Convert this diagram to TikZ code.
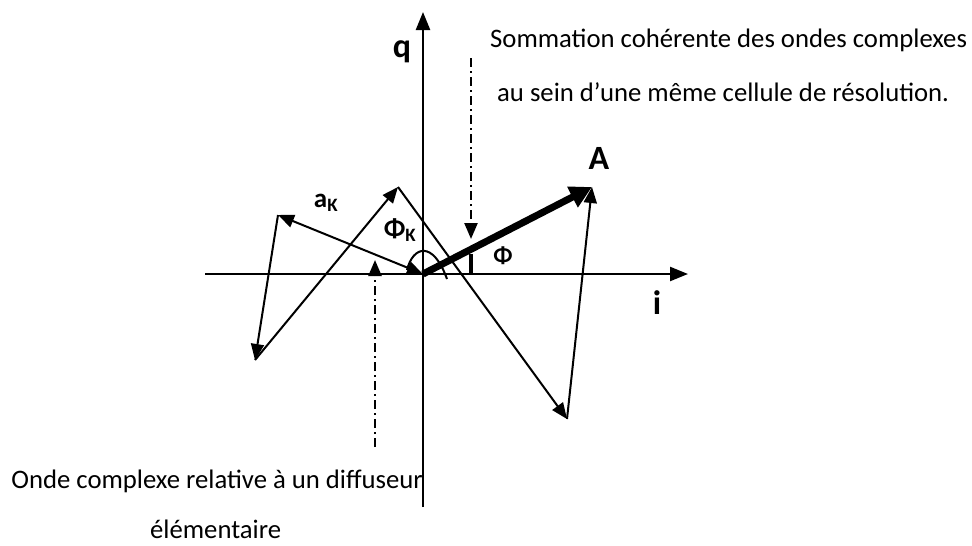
\documentclass[tikz,border=0pt]{standalone}
\usepackage{fontspec}
\setmainfont{Carlito}
\usetikzlibrary{arrows.meta}
\tikzset{
  vec/.style={line width=2pt,-{Triangle[length=16pt,width=13pt]}},
  dvec/.style={line width=2pt,{Triangle[length=16pt,width=13pt]}-{Triangle[length=16pt,width=13pt]}},
  axis/.style={line width=2.4pt,-{Triangle[length=18pt,width=14pt]}},
  dd/.style={line width=2.4pt,dash pattern=on 9pt off 4pt on 2pt off 4pt,-{Triangle[length=16pt,width=13pt]}},
  txt/.style={font=\fontsize{26.7}{30}\selectfont,inner sep=0pt},
  lbl/.style={font=\fontsize{34}{38}\selectfont\bfseries,inner sep=0pt},
  slbl/.style={font=\fontsize{27}{31}\selectfont\bfseries,inner sep=0pt}
}
\begin{document}
\begin{tikzpicture}[x=1pt,y=-1pt]
\useasboundingbox (0,0) rectangle (972,546);
% points
\coordinate (O) at (423,274);
\coordinate (hl) at (205,274);
\coordinate (hr) at (688,274);
\coordinate (vb) at (423,507);
\coordinate (vt) at (423,12);
\coordinate (p1) at (278,215);
\coordinate (p2) at (255,360);
\coordinate (p3) at (398,187);
\coordinate (p4) at (567,419);
\coordinate (p5) at (592,187);
\coordinate (d1s) at (471,58);
\coordinate (d1e) at (471,239);
\coordinate (d2s) at (375,447);
\coordinate (d2e) at (375,260);
\coordinate (t1) at (471,254);
\coordinate (t2) at (471,274);
% axes
\draw[axis] (hl) -- (hr);
\draw[axis] (vb) -- (vt);
% chain of vectors
\draw[dvec] (p1) -- (O);
\draw[vec] (p1) -- (p2);
\draw[vec] (p2) -- (p3);
\draw[vec] (p3) -- (p4);
\draw[vec] (p4) -- (p5);
% resultant
\draw[line width=7pt,-{Triangle[length=22pt,width=22pt]}] (O) -- (p5);
% angle marks
\draw[line width=2pt] (407,270) .. controls (413,246) and (433,240) .. (447,279);
\draw[line width=3.5pt] (t1) -- (t2);
% dash-dot pointers
\draw[dd] (d1s) -- (d1e);
\draw[dd] (d2s) -- (d2e);
% labels
\node[lbl] (q) at (402,52) {q};
\node[lbl] (i) at (657,303) {i};
\node[lbl] (A) at (599,158) {A};
\node[slbl] (ak) at (326,203) {a\textsubscript{K}};
\node[slbl] (phik) at (400,230) {Φ\textsubscript{K}};
\node[slbl,font=\fontsize{24}{28}\selectfont\bfseries] (phi) at (503,256) {Φ};
% texts
\node[txt,anchor=west] (s1) at (490,40) {Sommation cohérente des ondes complexes};
\node[txt,anchor=west] (s2) at (497,92) {au sein d’une même cellule de résolution.};
\node[txt,anchor=east] (o1) at (423,481) {Onde complexe relative à un diffuseur};
\node[txt,anchor=west] (o2) at (150,529) {élémentaire};
\end{tikzpicture}
\end{document}
